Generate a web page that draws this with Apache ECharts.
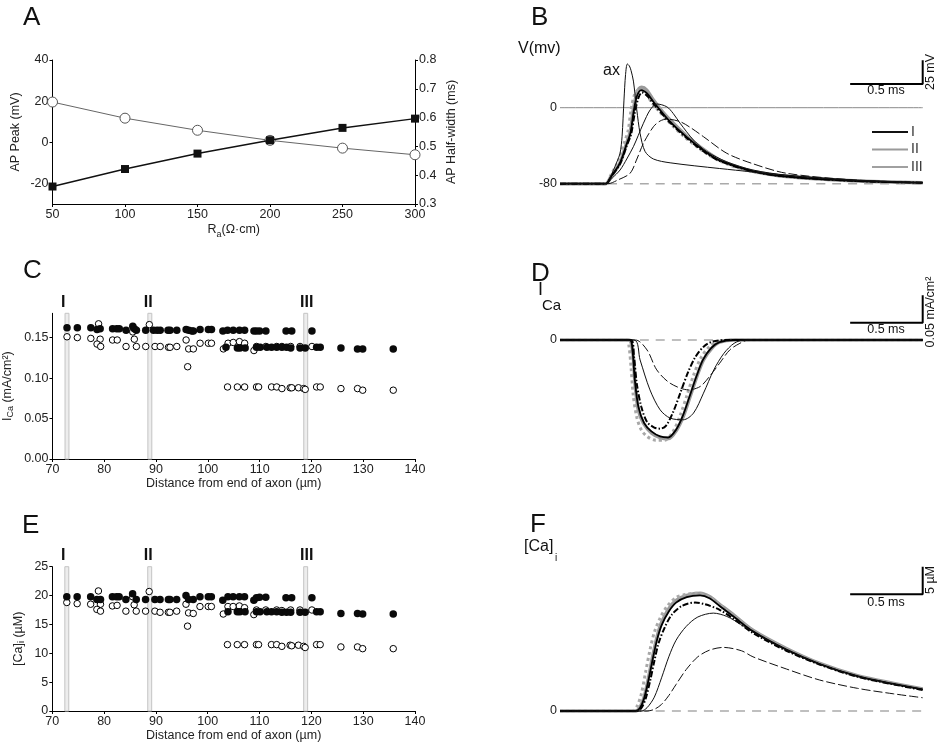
<!DOCTYPE html>
<html><head><meta charset="utf-8">
<script src="https://cdn.jsdelivr.net/npm/echarts@6/dist/echarts.min.js"></script>
<style>html,body{margin:0;padding:0;background:#fff}#c{width:946px;height:754px}</style>
</head><body><div id="c"></div>
<script>
// ---------- Panel A data ----------
const raValues = [50, 100, 150, 200, 250, 300];
const apPeak = [-21.5, -13, -5.5, 1, 7, 11.5];
const apHalfWidth = [0.654, 0.598, 0.556, 0.521, 0.494, 0.471];
const apPeakTicks = [-20, 0, 20, 40];

// ---------- Panel C data (I_Ca, mA/cm2) ----------
const icaFilled = [
[72.8,0.162],[74.8,0.162],[77.4,0.162],[78.6,0.160],[79.2,0.161],[81.6,0.161],[82.4,0.161],[82.9,0.161],[84.2,0.159],[85.5,0.164],[85.8,0.161],[86.2,0.159],[88.0,0.159],[89.5,0.159],[90.2,0.159],[90.8,0.159],[92.3,0.159],[92.7,0.159],[94.0,0.159],[95.8,0.160],[96.3,0.159],[96.9,0.158],[97.2,0.158],[98.5,0.160],[100.1,0.160],[100.7,0.160],[102.9,0.158],[103.8,0.159],[104.9,0.159],[106.1,0.159],[107.1,0.159],[108.9,0.158],[109.4,0.158],[110.0,0.158],[111.2,0.158],[115.1,0.158],[116.2,0.158],[120.1,0.158],
[103.5,0.138],[105.7,0.137],[106.2,0.137],[107.2,0.137],[109.4,0.138],[110.1,0.138],[111.4,0.138],[112.3,0.138],[113.3,0.138],[114.3,0.138],[115.2,0.138],[116.0,0.137],[117.8,0.137],[118.8,0.137],[121.0,0.138],[121.7,0.138],[125.7,0.137],[128.9,0.136],[129.9,0.136],[135.8,0.136]
];
const icaOpen = [
[72.8,0.151],[74.8,0.150],[77.4,0.149],[78.9,0.167],[79.2,0.148],[78.6,0.142],[79.3,0.139],[81.6,0.147],[82.5,0.147],[84.2,0.139],[85.5,0.157],[85.8,0.148],[86.2,0.139],[88.0,0.139],[88.7,0.166],[89.8,0.139],[90.8,0.139],[92.4,0.138],[92.7,0.138],[94.0,0.139],[95.8,0.147],[96.3,0.136],[97.2,0.136],[96.1,0.114],[98.5,0.143],[100.1,0.143],[100.7,0.143],[103.0,0.136],[103.9,0.143],[104.9,0.144],[106.1,0.145],[107.1,0.143],[108.9,0.134],[109.4,0.139],[111.2,0.139],[113.3,0.139],[114.3,0.139],[116.0,0.139],[117.8,0.139],[120.1,0.139],
[103.8,0.089],[105.7,0.089],[107.1,0.089],[109.4,0.089],[109.8,0.089],[112.3,0.089],[113.3,0.089],[114.3,0.087],[115.9,0.088],[116.2,0.088],[117.5,0.088],[118.5,0.087],[118.8,0.086],[121.0,0.089],[121.7,0.089],[125.7,0.087],[128.9,0.087],[129.9,0.085],[135.8,0.085]
];
const icaTicks = [0, 0.05, 0.10, 0.15];

// ---------- Panel E data ([Ca]i, uM) ----------
const caFilled = [
[72.8,19.8],[74.8,19.8],[77.4,19.8],[78.6,19.3],[79.3,19.3],[81.6,19.8],[82.4,19.8],[82.9,19.8],[84.2,19.3],[85.5,20.3],[86.2,19.3],[88.0,19.3],[89.8,19.3],[90.8,19.3],[92.4,19.3],[92.7,19.3],[94.0,19.3],[95.8,20.0],[96.3,19.3],[97.2,19.3],[98.5,19.8],[100.1,19.8],[100.7,19.8],[102.9,19.2],[103.9,19.8],[104.9,19.8],[106.1,19.8],[107.1,19.8],[108.9,19.2],[109.4,19.6],[110.0,19.7],[111.2,19.7],[115.1,19.6],[116.2,19.6],[120.1,19.6],
[103.9,17.2],[105.7,17.2],[106.2,17.2],[107.2,17.2],[109.4,17.2],[110.1,17.2],[111.4,17.2],[112.3,17.2],[113.3,17.2],[114.3,17.1],[115.2,17.1],[116.0,17.1],[117.8,17.1],[118.8,17.1],[121.0,17.2],[121.7,17.2],[125.7,16.9],[128.9,16.9],[129.9,16.8],[135.8,16.8]
];
const caOpen = [
[72.8,18.8],[74.8,18.6],[77.4,18.5],[78.9,20.8],[79.3,18.5],[78.6,17.6],[79.3,17.3],[81.6,18.2],[82.5,18.3],[84.2,17.3],[85.5,19.8],[85.8,18.4],[86.2,17.3],[88.0,17.3],[88.7,20.7],[89.8,17.3],[90.8,17.1],[92.4,17.1],[92.7,17.1],[94.0,17.3],[95.8,18.5],[96.3,17.0],[97.2,16.9],[96.1,14.7],[98.5,18.1],[100.1,18.1],[100.7,18.1],[103.0,16.8],[103.9,18.1],[104.9,18.1],[106.1,18.2],[107.1,17.9],[108.9,16.7],[109.4,17.5],[111.2,17.5],[113.3,17.5],[114.3,17.4],[116.0,17.5],[117.8,17.5],[120.1,17.5],
[103.8,11.5],[105.7,11.5],[107.1,11.5],[109.4,11.5],[109.8,11.5],[112.3,11.5],[113.3,11.5],[114.3,11.2],[115.9,11.4],[116.2,11.3],[117.5,11.4],[118.5,11.2],[118.8,11.0],[121.0,11.5],[121.7,11.5],[125.7,11.1],[128.9,11.1],[129.9,10.8],[135.8,10.8]
];
const markerPos = [72.8, 88.8, 118.9];
const markerLabels = ['I', 'II', 'III'];

// ---------- Panel B traces (t in ms, V in mV) ----------
const tRange = [0, 2.5];
const vAx = [[0,-80],[0.315,-80],[0.34,-75],[0.368,-66],[0.395,-56],[0.414,-48],[0.428,-30],[0.441,8],[0.452,35],[0.464,46],[0.478,44],[0.49,39],[0.506,28],[0.529,-2],[0.552,-27],[0.586,-46],[0.644,-54],[0.759,-58],[1.1,-64],[1.56,-71],[2.02,-76],[2.5,-78.7]];
const vII = [[0,-80],[0.315,-80],[0.35,-73],[0.414,-58],[0.46,-37],[0.483,-26],[0.506,-2],[0.529,15],[0.545,20],[0.563,21.5],[0.598,18.5],[0.644,8],[0.7,-3],[0.759,-13],[0.874,-30],[0.989,-44],[1.1,-55],[1.218,-62],[1.33,-67],[1.56,-72.5],[2.02,-77],[2.5,-79]];
const vDot = [[0,-80],[0.315,-80],[0.35,-71],[0.4,-57],[0.445,-36],[0.47,-24],[0.49,-2],[0.515,14],[0.55,19.5],[0.585,16.5],[0.63,6],[0.69,-5],[0.75,-15],[0.86,-31],[0.98,-45],[1.1,-56],[1.3,-66.5],[1.56,-72.5],[2.02,-77],[2.5,-79]];
const vI = [[0,-80],[0.315,-80],[0.35,-73],[0.414,-58],[0.46,-38],[0.485,-27],[0.508,-4],[0.53,12],[0.56,18.5],[0.6,15],[0.65,5],[0.76,-15],[0.874,-31],[0.99,-45],[1.1,-55.5],[1.33,-67],[1.56,-72.5],[2.02,-77],[2.5,-79]];
const vDashDot = [[0,-80],[0.315,-80],[0.35,-73],[0.414,-59],[0.46,-40],[0.49,-28],[0.515,-6],[0.54,10],[0.565,16],[0.6,12.5],[0.65,3],[0.76,-16],[0.874,-32],[0.99,-46],[1.1,-56],[1.33,-67],[1.56,-72.5],[2.02,-77],[2.5,-79]];
const vThin = [[0,-80],[0.315,-80],[0.36,-74],[0.414,-65.6],[0.46,-54],[0.506,-41],[0.54,-29],[0.575,-16.4],[0.621,-2.4],[0.667,3.9],[0.736,1],[0.78,-6],[0.828,-16.4],[0.92,-34],[1.01,-46],[1.15,-57],[1.33,-65.6],[1.56,-71],[2.02,-76.5],[2.5,-79]];
const vDash = [[0,-80],[0.33,-80],[0.4,-76],[0.483,-69],[0.53,-54],[0.575,-37.5],[0.644,-20],[0.69,-14],[0.736,-12],[0.828,-14.7],[0.9,-21],[0.989,-30.5],[1.15,-48],[1.33,-59],[1.56,-69],[2.02,-76],[2.5,-79]];
const vRefLevels = [0, -80];

// ---------- Panel D traces (I_Ca, mA/cm2) ----------
const iII = [[0,0],[0.47,0],[0.49,-0.004],[0.505,-0.03],[0.517,-0.078],[0.54,-0.126],[0.575,-0.15],[0.632,-0.168],[0.69,-0.176],[0.747,-0.178],[0.805,-0.162],[0.85,-0.138],[0.897,-0.102],[0.943,-0.066],[0.989,-0.036],[1.046,-0.015],[1.1,-0.004],[1.2,0],[2.5,0]];
const iDot = [[0,0],[0.46,0],[0.475,-0.01],[0.49,-0.05],[0.505,-0.1],[0.53,-0.14],[0.56,-0.162],[0.6,-0.174],[0.66,-0.181],[0.72,-0.181],[0.78,-0.165],[0.83,-0.135],[0.875,-0.1],[0.92,-0.064],[0.97,-0.033],[1.03,-0.012],[1.09,-0.003],[1.2,0],[2.5,0]];
const iI = [[0,0],[0.48,0],[0.5,-0.02],[0.515,-0.07],[0.54,-0.12],[0.58,-0.15],[0.63,-0.165],[0.69,-0.174],[0.745,-0.176],[0.8,-0.162],[0.845,-0.138],[0.893,-0.102],[0.94,-0.066],[0.985,-0.036],[1.04,-0.015],[1.1,-0.004],[1.2,0],[2.5,0]];
const iDashDot = [[0,0],[0.49,0],[0.51,-0.03],[0.53,-0.08],[0.56,-0.12],[0.6,-0.148],[0.65,-0.158],[0.69,-0.16],[0.73,-0.155],[0.78,-0.13],[0.83,-0.095],[0.88,-0.06],[0.93,-0.032],[0.99,-0.012],[1.05,-0.003],[1.15,0],[2.5,0]];
const iThin = [[0,0],[0.51,0],[0.552,-0.036],[0.62,-0.09],[0.69,-0.126],[0.759,-0.141],[0.85,-0.144],[0.92,-0.132],[0.989,-0.096],[1.06,-0.054],[1.13,-0.024],[1.2,-0.006],[1.27,0],[2.5,0]];
const iDash = [[0,0],[0.52,0],[0.6,-0.018],[0.667,-0.054],[0.759,-0.078],[0.885,-0.09],[0.966,-0.084],[1.03,-0.066],[1.1,-0.042],[1.17,-0.018],[1.24,-0.006],[1.3,0],[2.5,0]];

// ---------- Panel F traces ([Ca]i, uM) ----------
const cII = [[0,0],[0.52,0],[0.55,0.6],[0.58,2.5],[0.61,6],[0.64,10],[0.67,13.5],[0.7,16],[0.75,18.5],[0.8,20],[0.874,20.9],[0.966,21.3],[1.03,20.7],[1.1,19.3],[1.2,17.3],[1.33,14.6],[1.56,11.3],[1.79,8.6],[2.05,6.4],[2.3,5],[2.5,4]];
const cDot = [[0,0],[0.5,0],[0.53,0.8],[0.56,3],[0.59,7],[0.62,11],[0.65,14.2],[0.69,16.8],[0.74,19],[0.8,20.5],[0.87,21.1],[0.95,21.3],[1.03,20.6],[1.1,19.2],[1.2,17.2],[1.33,14.5],[1.56,11.2],[1.79,8.5],[2.05,6.3],[2.3,4.9],[2.5,3.9]];
const cI = [[0,0],[0.52,0],[0.55,0.5],[0.58,2.3],[0.61,5.6],[0.64,9.5],[0.67,13],[0.7,15.5],[0.75,18],[0.8,19.6],[0.874,20.6],[0.966,20.9],[1.03,20.4],[1.1,19],[1.2,17],[1.33,14.4],[1.56,11.1],[1.79,8.5],[2.05,6.3],[2.3,4.9],[2.5,3.9]];
const cDashDot = [[0,0],[0.53,0],[0.56,0.5],[0.59,2.2],[0.62,5.3],[0.65,9],[0.68,12.3],[0.72,15],[0.77,17.4],[0.84,19],[0.93,19.6],[1.0,19.3],[1.1,18.3],[1.2,16.6],[1.33,14.1],[1.56,10.9],[1.79,8.4],[2.05,6.2],[2.3,4.8],[2.5,3.8]];
const cThin = [[0,0],[0.56,0],[0.6,0.6],[0.65,2.5],[0.7,6],[0.75,9.8],[0.8,12.8],[0.87,15.3],[0.95,17],[1.057,17.7],[1.15,17.1],[1.25,15.6],[1.33,14.3],[1.56,11.1],[1.79,8.5],[2.05,6.3],[2.3,4.9],[2.5,3.9]];
const cDash = [[0,0],[0.6,0],[0.65,0.3],[0.7,1.2],[0.75,2.8],[0.8,4.8],[0.87,7.5],[0.95,9.8],[1.03,11],[1.126,11.5],[1.25,10.9],[1.33,9.8],[1.56,7.6],[1.79,5.6],[2.05,4.1],[2.3,3.1],[2.5,2.4]];

// ---------- scale bars (data units) ----------
const scaleTime = [2.0, 2.5];
const scaleB = [25, 50];
const scaleD = [0.031, 0.081];
const scaleF = [21.1, 26.1];

const FONT = 'Liberation Sans, Arial, Helvetica, sans-serif';
const FS = 12.5;
const chart = echarts.init(document.getElementById('c'), null, {renderer: 'canvas'});

const grids = [
  {left: 52.5, top: 60, width: 362.5, height: 144},
  {left: 560, top: 50.7, width: 362.7, height: 152},
  {left: 52.3, top: 313.3, width: 362.7, height: 145.7},
  {left: 560, top: 284.6, width: 362.7, height: 166.2},
  {left: 52.3, top: 566.7, width: 362.7, height: 144.3},
  {left: 560, top: 545.1, width: 362.7, height: 193.55}
];

const axLine = {show: true, onZero: false, lineStyle: {color: '#000', width: 1}};
const tick = {show: true, length: 3, lineStyle: {color: '#000'}};
const lbl = {color: '#222', fontSize: FS, fontFamily: FONT, margin: 4};
const hiddenX = i => ({type: 'value', gridIndex: i, min: tRange[0], max: tRange[1], show: false, axisLine: {onZero: false}});
const traceY = (i, min, max) => ({
  type: 'value', gridIndex: i, min, max,
  axisLine: {show: false, onZero: false}, axisTick: {show: false}, splitLine: {show: false},
  axisLabel: {color: '#222', fontSize: FS, fontFamily: FONT, margin: 3, customValues: [0]}
});

const xAxes = [
  {type: 'value', gridIndex: 0, min: 50, max: 300, interval: 50, axisLine: axLine, axisTick: tick, splitLine: {show: false},
   axisLabel: lbl, name: '{n|R}{s|a}{n|(Ω·cm)}', nameLocation: 'middle', nameGap: 19,
   nameTextStyle: {rich: {n: {fontSize: FS, fontFamily: FONT, color: '#222', lineHeight: 16, verticalAlign: 'top'}, s: {fontSize: 9, fontFamily: FONT, color: '#222', lineHeight: 16, padding: [8, 0, 0, 0]}}}},
  hiddenX(1),
  {type: 'value', gridIndex: 2, min: 70, max: 140, interval: 10, axisLine: axLine, axisTick: tick, splitLine: {show: false},
   axisLabel: lbl, name: 'Distance from end of axon (µm)', nameLocation: 'middle', nameGap: 17,
   nameTextStyle: {fontSize: FS, fontFamily: FONT, color: '#222', verticalAlign: 'top'}},
  hiddenX(3),
  {type: 'value', gridIndex: 4, min: 70, max: 140, interval: 10, axisLine: axLine, axisTick: tick, splitLine: {show: false},
   axisLabel: lbl, name: 'Distance from end of axon (µm)', nameLocation: 'middle', nameGap: 17,
   nameTextStyle: {fontSize: FS, fontFamily: FONT, color: '#222', verticalAlign: 'top'}},
  hiddenX(5)
];

const subRich = {
  n: {fontSize: FS, fontFamily: FONT, color: '#222'},
  s: {fontSize: 9, fontFamily: FONT, color: '#222', padding: [7, 0, 0, 0]}
};

const yAxes = [
  {type: 'value', gridIndex: 0, min: -30, max: 40, position: 'left', axisLine: axLine, splitLine: {show: false},
   axisTick: Object.assign({}, tick, {customValues: apPeakTicks}),
   axisLabel: Object.assign({}, lbl, {customValues: apPeakTicks}),
   name: 'AP Peak (mV)', nameLocation: 'middle', nameGap: 30, nameTextStyle: {fontSize: FS, fontFamily: FONT, color: '#222'}},
  {type: 'value', gridIndex: 0, min: 0.3, max: 0.8, interval: 0.1, position: 'right', axisLine: axLine, axisTick: tick, splitLine: {show: false},
   axisLabel: Object.assign({}, lbl, {formatter: v => v.toFixed(1)}),
   name: 'AP Half-width (ms)', nameLocation: 'middle', nameGap: 30, nameTextStyle: {fontSize: FS, fontFamily: FONT, color: '#222'}},
  Object.assign(traceY(1, -100, 60), {axisLabel: {color: '#222', fontSize: FS, fontFamily: FONT, margin: 3, customValues: vRefLevels}}),
  {type: 'value', gridIndex: 2, min: 0, max: 0.18, axisLine: axLine, splitLine: {show: false},
   axisTick: Object.assign({}, tick, {customValues: icaTicks}),
   axisLabel: Object.assign({}, lbl, {customValues: icaTicks, formatter: v => v.toFixed(2)}),
   name: '{n|I}{s|Ca}{n| (mA/cm²)}', nameLocation: 'middle', nameGap: 37, nameTextStyle: {rich: subRich}},
  traceY(3, -0.2, 0.1),
  {type: 'value', gridIndex: 4, min: 0, max: 25, interval: 5, axisLine: axLine, axisTick: tick, splitLine: {show: false},
   axisLabel: lbl,
   name: '{n|[Ca]}{s|i}{n| (µM)}', nameLocation: 'middle', nameGap: 26, nameTextStyle: {rich: subRich}},
  traceY(5, -5, 30)
];

function trace(name, data, xi, yi, color, width, type, z) {
  return {type: 'line', name, data, xAxisIndex: xi, yAxisIndex: yi, symbol: 'none', showSymbol: false,
    smooth: 0.3, silent: true, z: z || 2, itemStyle: {color}, lineStyle: {color, width, type: type || 'solid'}};
}
function flat(level, xi, yi, color, width, type) {
  return trace('ref', tRange.map(t => [t, level]), xi, yi, color, width, type, 1);
}
function scaleBar(yVals, xi, yi) {
  return {type: 'line', data: [[scaleTime[0], yVals[0]], [scaleTime[1], yVals[0]], [scaleTime[1], yVals[1]]],
    xAxisIndex: xi, yAxisIndex: yi, symbol: 'none', silent: true, lineStyle: {color: '#000', width: 2}, z: 5};
}
const dashDot = [6, 2, 1.5, 2];
const GRAY = '#9a9a9a';

function traceSet(d, xi, yi) {
  return [
    trace('II-trace', d.ii, xi, yi, GRAY, 3.5, 'solid', 2),
    trace('dot', d.dot, xi, yi, '#a8a8a8', 3, 'dotted', 3),
    trace('I-trace', d.i, xi, yi, '#000', 1.8, 'solid', 4),
    trace('dashdot', d.dd, xi, yi, '#000', 2, dashDot, 4),
    trace('thin', d.thin, xi, yi, '#111', 1, 'solid', 4),
    trace('dash', d.dash, xi, yi, '#111', 1, [9, 3], 4)
  ];
}

const markerBand = (xi, yi) => ({
  type: 'line', xAxisIndex: xi, yAxisIndex: yi, data: markerPos.map(p => [p, 0]), symbol: 'none', silent: true,
  lineStyle: {width: 0, opacity: 0}, z: 1,
  markArea: {silent: true, itemStyle: {color: '#ededed', borderColor: '#c4c4c4', borderWidth: 1},
    data: markerPos.map(p => [{xAxis: p - 0.38}, {xAxis: p + 0.38}])}
});
const openScatter = (data, xi, yi) => ({type: 'scatter', data, xAxisIndex: xi, yAxisIndex: yi, symbol: 'circle', symbolSize: 6.5,
  itemStyle: {color: '#fff', borderColor: '#000', borderWidth: 1, opacity: 1}, silent: true, z: 3});
const filledScatter = (data, xi, yi) => ({type: 'scatter', data, xAxisIndex: xi, yAxisIndex: yi, symbol: 'circle', symbolSize: 7.5,
  itemStyle: {color: '#0a0a0a', opacity: 1}, silent: true, z: 3});

const legendEntry = (name, color, width) => ({type: 'line', name, data: [], xAxisIndex: 1, yAxisIndex: 2, symbol: 'none',
  itemStyle: {color}, lineStyle: {color, width}});

const series = [
  // A
  {type: 'line', xAxisIndex: 0, yAxisIndex: 1, data: raValues.map((r, k) => [r, apHalfWidth[k]]), symbol: 'circle', symbolSize: 10,
   itemStyle: {color: '#fff', borderColor: '#555', borderWidth: 1}, lineStyle: {color: '#666', width: 1}, silent: true, z: 2},
  {type: 'line', xAxisIndex: 0, yAxisIndex: 0, data: raValues.map((r, k) => [r, apPeak[k]]), symbol: 'rect', symbolSize: 8,
   itemStyle: {color: '#111'}, lineStyle: {color: '#111', width: 1.5}, silent: true, z: 3},
  // B
  flat(vRefLevels[0], 1, 2, '#8a8a8a', 1, 'solid'),
  flat(vRefLevels[1], 1, 2, '#aaa', 1.5, [9, 7]),
  ...traceSet({ii: vII, dot: vDot, i: vI, dd: vDashDot, thin: vThin, dash: vDash}, 1, 2),
  trace('ax', vAx, 1, 2, '#111', 1, 'solid', 4),
  scaleBar(scaleB, 1, 2),
  legendEntry('I', '#111', 2),
  legendEntry('II', GRAY, 3.5),
  legendEntry('III', '#a0a0a0', 2),
  // C
  markerBand(2, 3), openScatter(icaOpen, 2, 3), filledScatter(icaFilled, 2, 3),
  // D
  flat(0, 3, 4, '#aaa', 1.5, [9, 7]),
  ...traceSet({ii: iII, dot: iDot, i: iI, dd: iDashDot, thin: iThin, dash: iDash}, 3, 4),
  scaleBar(scaleD, 3, 4),
  // E
  markerBand(4, 5), openScatter(caOpen, 4, 5), filledScatter(caFilled, 4, 5),
  // F
  flat(0, 5, 6, '#aaa', 1.5, [9, 7]),
  ...traceSet({ii: cII, dot: cDot, i: cI, dd: cDashDot, thin: cThin, dash: cDash}, 5, 6),
  scaleBar(scaleF, 5, 6)
];

const txt = (text, x, y, size, extra) => Object.assign({type: 'text', x, y, silent: true,
  style: Object.assign({text, fontSize: size, fontFamily: FONT, fill: '#111', align: 'left', verticalAlign: 'top'}, (extra && extra.style) || {})},
  extra ? {rotation: extra.rotation || 0} : {});

const markerLabelX = [63.3, 148.3, 306.7];
const graphic = [
  txt('A', 23, 5, 26), txt('B', 531, 5, 26), txt('C', 23, 258, 26), txt('D', 531, 261, 26), txt('E', 22, 513, 26), txt('F', 530, 512, 26),
  txt('V(mv)', 518, 41, 16), txt('ax', 603, 63, 16),
  txt('I', 538, 281, 18), txt('Ca', 542, 298, 15),
  txt('[Ca]', 524, 539, 16), txt('i', 555, 553, 10),
  txt('0.5 ms', 886, 91, FS, {style: {align: 'center', verticalAlign: 'middle'}}),
  txt('0.5 ms', 886, 330, FS, {style: {align: 'center', verticalAlign: 'middle'}}),
  txt('0.5 ms', 886, 603, FS, {style: {align: 'center', verticalAlign: 'middle'}}),
  txt('25 mV', 931, 72, FS, {rotation: Math.PI / 2, style: {align: 'center', verticalAlign: 'middle'}}),
  txt('0.05 mA/cm²', 931, 312, FS, {rotation: Math.PI / 2, style: {align: 'center', verticalAlign: 'middle'}}),
  txt('5 µM', 931, 580, FS, {rotation: Math.PI / 2, style: {align: 'center', verticalAlign: 'middle'}}),
  ...markerLabels.map((t, k) => txt(t, markerLabelX[k], 303, 16, {style: {align: 'center', verticalAlign: 'middle', fontWeight: 'bold'}})),
  ...markerLabels.map((t, k) => txt(t, markerLabelX[k], 556, 16, {style: {align: 'center', verticalAlign: 'middle', fontWeight: 'bold'}}))
];

chart.setOption({
  animation: false,
  backgroundColor: '#fff',
  textStyle: {fontFamily: FONT},
  grid: grids,
  xAxis: xAxes,
  yAxis: yAxes,
  legend: {data: ['I', 'II', 'III'], orient: 'vertical', left: 866, top: 120, itemWidth: 36, itemHeight: 12, itemGap: 3.5,
    itemStyle: {opacity: 0},
    textStyle: {fontSize: 14, color: '#333', fontFamily: FONT, padding: [0, 0, 0, -2]}, selectedMode: false},
  series,
  graphic
});
</script></body></html>
